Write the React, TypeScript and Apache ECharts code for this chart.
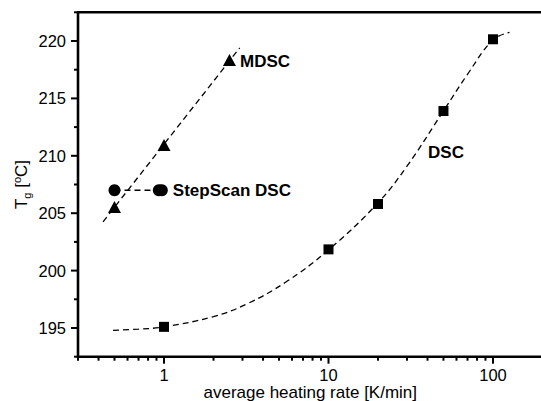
import React, { useEffect, useRef } from "react";
import * as echarts from "echarts";

// Measured points
const dscRate = [1, 10, 20, 50, 100];
const dscTg = [195.1, 201.85, 205.8, 213.9, 220.15];
const mdscRate = [0.5, 1, 2.5];
const mdscTg = [205.55, 210.95, 218.35];
const stepRate = [0.5, 0.93, 0.97];
const stepTg = [207.0, 207.0, 207.0];

// Dashed fit curves
const dscFit: [number, number][] = [
  [0.49, 194.8], [0.7, 194.9], [1, 195.1], [2, 196.0], [3.2, 197.1], [5.5, 199.0],
  [10, 201.8], [20, 205.9], [30, 209.1], [50, 213.9], [70, 217.1], [100, 220.1], [126, 220.75],
];
const mdscFit: [number, number][] = [[0.426, 204.25], [2.885, 219.4]];
const stepFit: [number, number][] = [[0.5, 207.0], [0.93, 207.0]];

// Annotation texts
const mdscText = "MDSC";
const stepText = "StepScan DSC";
const dscText = "DSC";
const dscTextAt: [number, number] = [40.3, 210.3];

// Axes
const xMin = 0.3;
const xMax = 200;
const yMin = 192.5;
const yMax = 222.5;
const xLabelValues = [1, 10, 100];
const xMajorTicks = [1, 10, 100];
const xMinorTicks = [0.3, 0.4, 0.5, 0.6, 0.7, 0.8, 0.9, 2, 3, 4, 5, 6, 7, 8, 9, 20, 30, 40, 50, 60, 70, 80, 90, 200];
const yMajorTicks = [195, 200, 205, 210, 215, 220];
const yMinorTicks = [192.5, 197.5, 202.5, 207.5, 212.5, 217.5, 222.5];

const FONT = "'Liberation Sans', Arial, Helvetica, sans-serif";

export default function App() {
  const ref = useRef<HTMLDivElement>(null);
  useEffect(() => {
    if (!ref.current) return;
    const chart = echarts.init(ref.current, null, { renderer: "svg" });
    const boldLabel = {
      fontFamily: FONT,
      fontSize: 17,
      fontWeight: "bold" as const,
      color: "#000",
      opacity: 1,
    };
    const black = { color: "#000", opacity: 1 };
    const tickSeries = (data: number[][], size: number[], offset: number[]) => ({
      type: "scatter",
      data,
      symbol: "rect",
      symbolSize: size,
      symbolOffset: offset,
      itemStyle: black,
      clip: false,
      silent: true,
      z: 6,
    });
    const dashed = { color: "#000", width: 1.3, type: [6, 4] as number[] };
    chart.setOption({
      animation: false,
      backgroundColor: "#fff",
      grid: {
        left: 78,
        top: 12.3,
        width: 464.5,
        height: 344.4,
        containLabel: false,
        outerBoundsMode: "none",
        show: true,
        borderColor: "#000",
        borderWidth: 2.6,
        backgroundColor: "transparent",
        z: 10,
      },
      xAxis: {
        type: "log",
        logBase: 10,
        min: xMin,
        max: xMax,
        name: "average heating rate [K/min]",
        nameLocation: "middle",
        nameGap: 27,
        nameMoveOverlap: false,
        nameTextStyle: { fontFamily: FONT, fontSize: 17, color: "#000" },
        axisLine: { show: true, lineStyle: { color: "#000", width: 2 } },
        axisTick: { show: false },
        splitLine: { show: false },
        axisLabel: {
          fontFamily: FONT,
          fontSize: 16.5,
          color: "#000",
          margin: 10,
          formatter: (v: number) => {
            for (const t of xLabelValues) if (Math.abs(v - t) / t < 1e-6) return String(t);
            return "";
          },
        },
      },
      yAxis: {
        type: "value",
        min: yMin,
        max: yMax,
        interval: 2.5,
        name: "{a|T}{sub|g}{a| [}{sup|o}{a|C]}",
        nameLocation: "middle",
        nameGap: 46,
        nameMoveOverlap: false,
        nameRotate: 90,
        nameTextStyle: {
          fontFamily: FONT,
          fontSize: 17,
          color: "#000",
          rich: {
            a: { fontFamily: FONT, fontSize: 17, color: "#000" },
            sub: { fontFamily: FONT, fontSize: 11, color: "#000", padding: [10, 0, 0, 0] },
            sup: { fontFamily: FONT, fontSize: 11, color: "#000", padding: [0, 0, 10, 0] },
          },
        },
        axisLine: { show: true, lineStyle: { color: "#000", width: 2 } },
        axisTick: { show: false },
        splitLine: { show: false },
        axisLabel: {
          fontFamily: FONT,
          fontSize: 16.5,
          color: "#000",
          margin: 12,
          formatter: (v: number) => (Math.abs(v / 5 - Math.round(v / 5)) < 1e-6 ? String(Math.round(v)) : ""),
        },
      },
      series: [
        tickSeries(xMajorTicks.map((v) => [v, yMin]), [2, 7], [0, 3.5]),
        tickSeries(xMinorTicks.map((v) => [v, yMin]), [2, 4], [0, 2]),
        tickSeries(yMajorTicks.map((v) => [xMin, v]), [7, 2], [-3.5, 0]),
        tickSeries(yMinorTicks.map((v) => [xMin, v]), [4, 2], [-2, 0]),
        {
          type: "line",
          data: dscFit,
          smooth: 0.4,
          symbol: "none",
          lineStyle: dashed,
          silent: true,
        },
        {
          type: "line",
          data: mdscFit,
          symbol: "none",
          lineStyle: dashed,
          silent: true,
        },
        {
          type: "line",
          data: stepFit,
          symbol: "none",
          lineStyle: dashed,
          silent: true,
        },
        {
          type: "scatter",
          symbol: "rect",
          symbolSize: 10,
          itemStyle: black,
          data: dscRate.map((r, i) => [r, dscTg[i]]),
          z: 4,
        },
        {
          type: "scatter",
          symbol: "triangle",
          symbolSize: [13, 12],
          itemStyle: black,
          data: mdscRate.map((r, i) =>
            i === mdscRate.length - 1
              ? {
                  value: [r, mdscTg[i]],
                  label: { show: true, formatter: mdscText, position: "right", distance: 4, offset: [0, 2], ...boldLabel },
                }
              : [r, mdscTg[i]]
          ),
          z: 4,
        },
        {
          type: "scatter",
          symbol: "circle",
          symbolSize: 12,
          itemStyle: black,
          data: stepRate.map((r, i) =>
            i === stepRate.length - 1
              ? {
                  value: [r, stepTg[i]],
                  label: { show: true, formatter: stepText, position: "right", distance: 5, ...boldLabel },
                }
              : [r, stepTg[i]]
          ),
          z: 4,
        },
        {
          type: "scatter",
          symbolSize: 0,
          itemStyle: black,
          data: [
            {
              value: dscTextAt,
              label: { show: true, formatter: dscText, position: "right", distance: 0, ...boldLabel },
            },
          ],
          silent: true,
        },
      ],
    });
    return () => chart.dispose();
  }, []);
  return (
    <div
      ref={ref}
      style={{ position: "fixed", left: 0, top: 0, width: 545, height: 401, background: "#fff" }}
    />
  );
}
